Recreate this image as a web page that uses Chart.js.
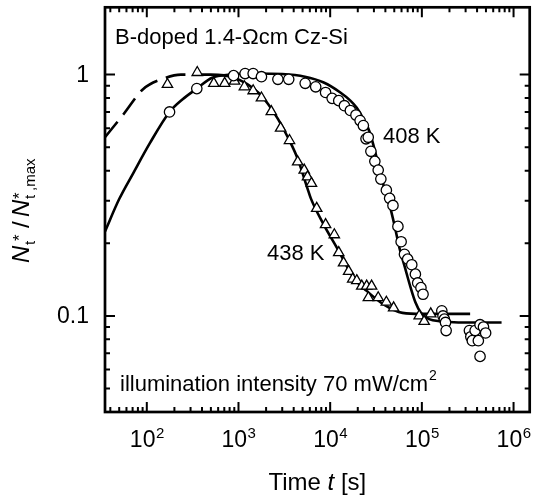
<!DOCTYPE html>
<html><head><meta charset="utf-8">
<script src="https://cdn.jsdelivr.net/npm/chart.js@4/dist/chart.umd.min.js"></script>
<style>html,body{margin:0;padding:0;background:#fff;}#wrap{width:537px;height:502px;}</style>
</head><body><div id="wrap"><canvas id="c" width="537" height="502"></canvas></div>
<script>
// ---- data ----
const xMajorTicks = [1e2, 1e3, 1e4, 1e5, 1e6];
const xTickExponents = ['2', '3', '4', '5', '6'];
const yMajorTicks = [0.1, 1];
const yTickLabels = ['0.1', '1'];

// 408 K measured (circles)
const c408T = [177, 351, 884, 1180, 1445, 1780, 2690, 3530, 5340, 6950, 8910, 10500, 12400, 14300, 16600, 19100, 21200, 23000, 24600, 26000, 27800, 30700, 33400, 35700, 41000, 44500, 48400, 54800, 59400, 64600, 70000, 77600, 85000, 90000, 97700, 103000, 165000, 170000, 176000, 181000, 184000, 330000, 342000, 355000, 381000, 413000, 431000, 431000, 470000, 496000];
const c408N = [0.70, 0.875, 0.99, 1.01, 1.01, 0.98, 0.956, 0.956, 0.92, 0.89, 0.843, 0.797, 0.78, 0.743, 0.71, 0.68, 0.645, 0.615, 0.542, 0.55, 0.481, 0.437, 0.402, 0.369, 0.332, 0.307, 0.287, 0.235, 0.203, 0.18, 0.172, 0.163, 0.149, 0.137, 0.131, 0.123, 0.105, 0.1, 0.097, 0.094, 0.087, 0.087, 0.082, 0.079, 0.087, 0.079, 0.092, 0.068, 0.09, 0.085];

// 438 K measured (triangles)
const t438T = [168, 355, 538, 707, 906, 1160, 1445, 1780, 2280, 2880, 3600, 4420, 5210, 5660, 6250, 7130, 8910, 11100, 12400, 14000, 15900, 17600, 19500, 22100, 25000, 26100, 28300, 33400, 41000, 49200, 93500, 106000, 125000];
const t438N = [0.91, 1.02, 0.92, 0.92, 0.94, 0.89, 0.857, 0.80, 0.702, 0.60, 0.533, 0.435, 0.402, 0.377, 0.354, 0.279, 0.239, 0.217, 0.183, 0.166, 0.153, 0.142, 0.14, 0.133, 0.133, 0.119, 0.133, 0.119, 0.114, 0.108, 0.10, 0.095, 0.102];

// fitted curves (traced)
const fit408T = [35, 50, 71, 108, 177, 246, 351, 516, 800, 1500, 3000, 5300, 8500, 12900, 16600, 19400, 23000, 27000, 32000, 38000, 44500, 50000, 57200, 65000, 75000, 85000, 97700, 120000, 160000, 250000, 740000];
const fit408N = [0.224, 0.305, 0.39, 0.52, 0.70, 0.79, 0.875, 0.97, 1.0, 1.01, 1.005, 0.98, 0.927, 0.843, 0.78, 0.73, 0.655, 0.577, 0.455, 0.35, 0.288, 0.24, 0.19, 0.16, 0.132, 0.114, 0.103, 0.097, 0.095, 0.094, 0.094];
const fit438DashT = [35, 56, 91, 156, 236, 320];
const fit438DashN = [0.55, 0.687, 0.87, 0.966, 1.0, 1.0];
const fit438T = [320, 500, 900, 1640, 2100, 2690, 3450, 4420, 5660, 6150, 8500, 11900, 18000, 25000, 37800, 61500, 100000, 336000];
const fit438N = [1.0, 1.0, 0.97, 0.843, 0.755, 0.655, 0.55, 0.448, 0.337, 0.307, 0.239, 0.191, 0.144, 0.127, 0.112, 0.103, 0.102, 0.102];

const zip = (xs, ys) => xs.map((x, i) => ({x: x, y: ys[i]}));
const FONT = "'Liberation Sans', Arial, sans-serif";

function minorTicks(min, max) {
  const out = [];
  for (let e = Math.floor(Math.log10(min)); e <= Math.ceil(Math.log10(max)); e++) {
    for (let m = 1; m <= 9; m++) {
      const v = m * Math.pow(10, e);
      if (v >= min && v <= max) out.push({v: v, major: m === 1});
    }
  }
  return out;
}

const framePlugin = {
  id: 'frame',
  afterDraw(chart) {
    const ctx = chart.ctx, a = chart.chartArea;
    const xs = chart.scales.x, ys = chart.scales.y;
    ctx.save();
    ctx.strokeStyle = '#000';
    ctx.lineCap = 'butt';
    // ticks
    ctx.lineWidth = 2;
    minorTicks(xs.min, xs.max).forEach(t => {
      const p = xs.getPixelForValue(t.v), L = t.major ? 10 : 5;
      ctx.beginPath();
      ctx.moveTo(p, a.bottom); ctx.lineTo(p, a.bottom - L);
      ctx.moveTo(p, a.top); ctx.lineTo(p, a.top + L);
      ctx.stroke();
    });
    minorTicks(ys.min, ys.max).forEach(t => {
      const p = ys.getPixelForValue(t.v), L = t.major ? 10 : 5;
      ctx.beginPath();
      ctx.moveTo(a.left, p); ctx.lineTo(a.left + L, p);
      ctx.moveTo(a.right, p); ctx.lineTo(a.right - L, p);
      ctx.stroke();
    });
    // frame
    ctx.lineWidth = 2.7;
    ctx.strokeRect(a.left, a.top, a.right - a.left, a.bottom - a.top);

    ctx.fillStyle = '#000';
    // x tick labels 10^n
    xMajorTicks.forEach((v, i) => {
      const p = xs.getPixelForValue(v);
      ctx.font = '23px ' + FONT;
      const w1 = ctx.measureText('10').width;
      ctx.font = '15px ' + FONT;
      const w2 = ctx.measureText(xTickExponents[i]).width;
      const x0 = p - (w1 + w2) / 2;
      ctx.textBaseline = 'alphabetic'; ctx.textAlign = 'left';
      ctx.font = '23px ' + FONT;
      ctx.fillText('10', x0, a.bottom + 35);
      ctx.font = '15px ' + FONT;
      ctx.fillText(xTickExponents[i], x0 + w1 + 0.5, a.bottom + 26);
    });
    // y tick labels
    ctx.font = '23px ' + FONT;
    ctx.textAlign = 'right'; ctx.textBaseline = 'middle';
    yMajorTicks.forEach((v, i) => {
      ctx.fillText(yTickLabels[i], a.left - 16, ys.getPixelForValue(v) + 1);
    });
    // x title: Time t [s]
    ctx.textAlign = 'left'; ctx.textBaseline = 'alphabetic';
    const parts = [['Time ', '24px '], ['t', 'italic 24px '], [' [s]', '24px ']];
    let tw = 0;
    parts.forEach(p => { ctx.font = p[1] + FONT; tw += ctx.measureText(p[0]).width; });
    let xx = (a.left + a.right) / 2 - tw / 2;
    parts.forEach(p => { ctx.font = p[1] + FONT; ctx.fillText(p[0], xx, 490); xx += ctx.measureText(p[0]).width; });

    // y title: N_t*/N_t*,max (rotated)
    ctx.save();
    ctx.translate(29, 263);
    ctx.rotate(-Math.PI / 2);
    const seg = [
      ['N', 'italic 24px ', 0, 0],
      ['t', '15px ', 18, 6],
      ['*', '17px ', 22, -4],
      ['/', '24px ', 35, 0],
      ['N', 'italic 24px ', 46, 0],
      ['*', '17px ', 64, -4],
      ['t', '15px ', 64, 6],
      [',max', '15px ', 72, 6]
    ];
    seg.forEach(s => { ctx.font = s[1] + FONT; ctx.fillText(s[0], s[2], s[3]); });
    ctx.restore();

    // annotations
    ctx.font = '22px ' + FONT;
    ctx.fillText('B-doped 1.4-\u03A9cm Cz-Si', 115, 44);
    ctx.fillText('408 K', 383, 143);
    ctx.fillText('438 K', 267, 260);
    const il = 'illumination intensity 70 mW/cm';
    ctx.fillText(il, 120, 391);
    const wil = ctx.measureText(il).width;
    ctx.font = '14px ' + FONT;
    ctx.fillText('2', 120 + wil + 1, 380);
    ctx.restore();
  }
};

const lineDs = (data, dash) => ({
  data: data, showLine: true, pointRadius: 0, borderColor: '#000', borderWidth: 2.6,
  borderDash: dash || [], cubicInterpolationMode: 'monotone', fill: false, order: 2
});

new Chart(document.getElementById('c'), {
  type: 'scatter',
  data: {
    datasets: [
      lineDs(zip(fit408T, fit408N)),
      lineDs(zip(fit438DashT, fit438DashN), [20, 9]),
      lineDs(zip(fit438T, fit438N)),
      { data: zip(t438T, t438N), pointStyle: 'triangle', pointRadius: 6, borderWidth: 1.3,
        borderColor: '#000', backgroundColor: '#fff', showLine: false, order: 1 },
      { data: zip(c408T, c408N), pointStyle: 'circle', pointRadius: 5.2, borderWidth: 1.3,
        borderColor: '#000', backgroundColor: '#fff', showLine: false, order: 0 }
    ]
  },
  options: {
    responsive: false, animation: false, devicePixelRatio: 1,
    layout: { padding: { left: 105, right: 2, top: 5, bottom: 90 } },
    plugins: { legend: { display: false }, tooltip: { enabled: false } },
    scales: {
      x: { type: 'logarithmic', min: 35, max: 1.5e6, display: false },
      y: { type: 'logarithmic', min: 0.04, max: 1.9, display: false }
    }
  },
  plugins: [framePlugin]
});
</script>
</body></html>
